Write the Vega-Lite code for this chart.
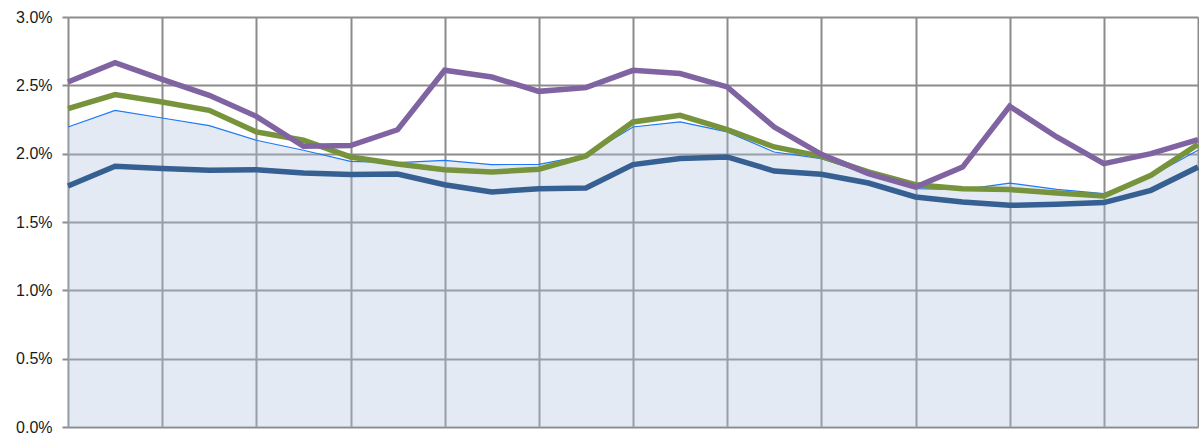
{
  "$schema": "https://vega.github.io/schema/vega-lite/v6.json",
  "width": 1130,
  "height": 410,
  "autosize": {"type": "none"},
  "padding": {"left": 68, "top": 17, "right": 1, "bottom": 10},
  "background": "white",
  "config": {
    "view": {"stroke": null},
    "axis": {"labelFont": "Liberation Sans", "labelFontSize": 16, "labelColor": "#1a1a1a", "gridColor": "#8c8c8c", "gridWidth": 2, "gridOpacity": 1}
  },
  "data": {"values": [
    {"i": 0, "a": 0.02195, "b": 0.01763, "c": 0.0233, "d": 0.02524},
    {"i": 1, "a": 0.02317, "b": 0.01908, "c": 0.02432, "d": 0.02666},
    {"i": 2, "a": 0.02261, "b": 0.01891, "c": 0.02378, "d": 0.02544},
    {"i": 3, "a": 0.02205, "b": 0.01878, "c": 0.02317, "d": 0.02427},
    {"i": 4, "a": 0.02098, "b": 0.01883, "c": 0.02159, "d": 0.02273},
    {"i": 5, "a": 0.02025, "b": 0.01859, "c": 0.02098, "d": 0.02054},
    {"i": 6, "a": 0.01944, "b": 0.01847, "c": 0.01976, "d": 0.02059},
    {"i": 7, "a": 0.01935, "b": 0.01851, "c": 0.01925, "d": 0.02175},
    {"i": 8, "a": 0.01951, "b": 0.01773, "c": 0.01883, "d": 0.0261},
    {"i": 9, "a": 0.0192, "b": 0.0172, "c": 0.01866, "d": 0.02561},
    {"i": 10, "a": 0.01922, "b": 0.01744, "c": 0.01886, "d": 0.02456},
    {"i": 11, "a": 0.01988, "b": 0.01749, "c": 0.01983, "d": 0.02483},
    {"i": 12, "a": 0.02195, "b": 0.0192, "c": 0.02232, "d": 0.0261},
    {"i": 13, "a": 0.02232, "b": 0.01964, "c": 0.02281, "d": 0.02586},
    {"i": 14, "a": 0.02159, "b": 0.01976, "c": 0.02176, "d": 0.02488},
    {"i": 15, "a": 0.02012, "b": 0.01873, "c": 0.02049, "d": 0.02195},
    {"i": 16, "a": 0.01964, "b": 0.01849, "c": 0.0198, "d": 0.01995},
    {"i": 17, "a": 0.01854, "b": 0.01785, "c": 0.01866, "d": 0.01854},
    {"i": 18, "a": 0.01744, "b": 0.01683, "c": 0.01773, "d": 0.01756},
    {"i": 19, "a": 0.01737, "b": 0.01646, "c": 0.01744, "d": 0.01902},
    {"i": 20, "a": 0.01785, "b": 0.01622, "c": 0.01737, "d": 0.02347},
    {"i": 21, "a": 0.01739, "b": 0.01629, "c": 0.01712, "d": 0.02122},
    {"i": 22, "a": 0.01708, "b": 0.01642, "c": 0.0169, "d": 0.01927},
    {"i": 23, "a": 0.01837, "b": 0.01732, "c": 0.01842, "d": 0.02},
    {"i": 24, "a": 0.02025, "b": 0.01902, "c": 0.02068, "d": 0.02103}
  ]},
  "encoding": {
    "x": {"field": "i", "type": "quantitative", "scale": {"domain": [0, 24], "nice": false, "zero": false},
      "axis": {"values": [0, 2, 4, 6, 8, 10, 12, 14, 16, 18, 20, 22, 24], "labels": false, "ticks": false, "domain": false, "title": null}}
  },
  "layer": [
    {
      "mark": {"type": "area", "color": "#afc3e0", "opacity": 0.35},
      "encoding": {
        "y": {"field": "a", "type": "quantitative", "scale": {"domain": [0, 0.03], "nice": false},
          "axis": {"values": [0, 0.005, 0.01, 0.015, 0.02, 0.025, 0.03], "format": ".1%", "title": null, "domain": false, "tickSize": 6, "tickColor": "#8c8c8c", "tickWidth": 2, "labelPadding": 10}}
      }
    },
    {"mark": {"type": "line", "color": "#1f78f5", "strokeWidth": 1.2}, "encoding": {"y": {"field": "a", "type": "quantitative"}}},
    {"mark": {"type": "line", "color": "#376092", "strokeWidth": 5.5}, "encoding": {"y": {"field": "b", "type": "quantitative"}}},
    {"mark": {"type": "line", "color": "#77933c", "strokeWidth": 5.5}, "encoding": {"y": {"field": "c", "type": "quantitative"}}},
    {"mark": {"type": "line", "color": "#8064a2", "strokeWidth": 5.5}, "encoding": {"y": {"field": "d", "type": "quantitative"}}}
  ]
}
